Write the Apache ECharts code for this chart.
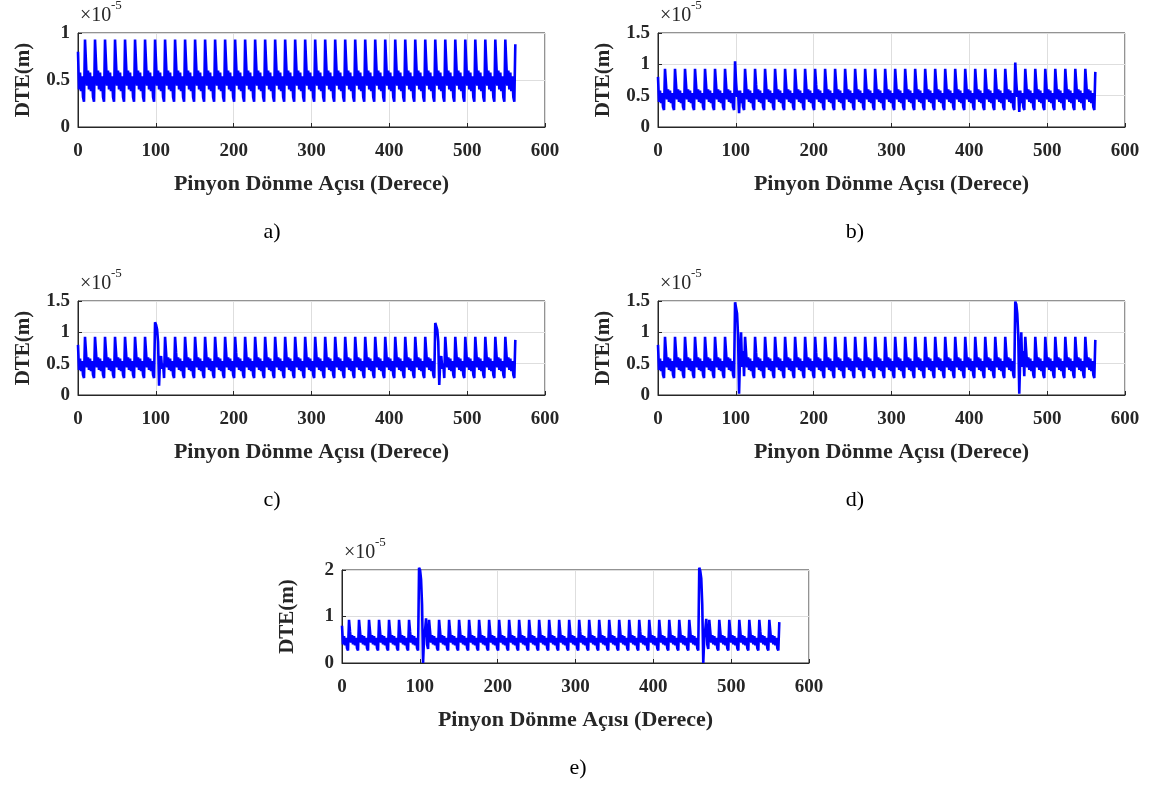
<!DOCTYPE html>
<html>
<head>
<meta charset="utf-8">
<script src="https://cdn.jsdelivr.net/npm/echarts@6/dist/echarts.min.js"></script>
<style>html,body{margin:0;padding:0;background:#fff}#c{width:1162px;height:787px}</style>
</head>
<body>
<div id="c"></div>
<script>
// Sample spacing (degrees of pinion rotation): 10 samples per tooth, 28-tooth pinion
const STEP = 360 / 28 / 10;

// Base DTE waveform (x1e-5 m), one row per tooth mesh
const baseDTE = [
0.80,0.40,0.58,0.38,0.54,0.32,0.27,0.93,0.68,0.44,
0.60,0.40,0.58,0.38,0.54,0.32,0.27,0.93,0.68,0.44,
0.60,0.40,0.58,0.38,0.54,0.32,0.27,0.93,0.68,0.44,
0.60,0.40,0.58,0.38,0.54,0.32,0.27,0.93,0.68,0.44,
0.60,0.40,0.58,0.38,0.54,0.32,0.27,0.93,0.68,0.44,
0.60,0.40,0.58,0.38,0.54,0.32,0.27,0.93,0.68,0.44,
0.60,0.40,0.58,0.38,0.54,0.32,0.27,0.93,0.68,0.44,
0.60,0.40,0.58,0.38,0.54,0.32,0.27,0.93,0.68,0.44,
0.60,0.40,0.58,0.38,0.54,0.32,0.27,0.93,0.68,0.44,
0.60,0.40,0.58,0.38,0.54,0.32,0.27,0.93,0.68,0.44,
0.60,0.40,0.58,0.38,0.54,0.32,0.27,0.93,0.68,0.44,
0.60,0.40,0.58,0.38,0.54,0.32,0.27,0.93,0.68,0.44,
0.60,0.40,0.58,0.38,0.54,0.32,0.27,0.93,0.68,0.44,
0.60,0.40,0.58,0.38,0.54,0.32,0.27,0.93,0.68,0.44,
0.60,0.40,0.58,0.38,0.54,0.32,0.27,0.93,0.68,0.44,
0.60,0.40,0.58,0.38,0.54,0.32,0.27,0.93,0.68,0.44,
0.60,0.40,0.58,0.38,0.54,0.32,0.27,0.93,0.68,0.44,
0.60,0.40,0.58,0.38,0.54,0.32,0.27,0.93,0.68,0.44,
0.60,0.40,0.58,0.38,0.54,0.32,0.27,0.93,0.68,0.44,
0.60,0.40,0.58,0.38,0.54,0.32,0.27,0.93,0.68,0.44,
0.60,0.40,0.58,0.38,0.54,0.32,0.27,0.93,0.68,0.44,
0.60,0.40,0.58,0.38,0.54,0.32,0.27,0.93,0.68,0.44,
0.60,0.40,0.58,0.38,0.54,0.32,0.27,0.93,0.68,0.44,
0.60,0.40,0.58,0.38,0.54,0.32,0.27,0.93,0.68,0.44,
0.60,0.40,0.58,0.38,0.54,0.32,0.27,0.93,0.68,0.44,
0.60,0.40,0.58,0.38,0.54,0.32,0.27,0.93,0.68,0.44,
0.60,0.40,0.58,0.38,0.54,0.32,0.27,0.93,0.68,0.44,
0.60,0.40,0.58,0.38,0.54,0.32,0.27,0.93,0.68,0.44,
0.60,0.40,0.58,0.38,0.54,0.32,0.27,0.93,0.68,0.44,
0.60,0.40,0.58,0.38,0.54,0.32,0.27,0.93,0.68,0.44,
0.60,0.40,0.58,0.38,0.54,0.32,0.27,0.93,0.68,0.44,
0.60,0.40,0.58,0.38,0.54,0.32,0.27,0.93,0.68,0.44,
0.60,0.40,0.58,0.38,0.54,0.32,0.27,0.93,0.68,0.44,
0.60,0.40,0.58,0.38,0.54,0.32,0.27,0.93,0.68,0.44,
0.60,0.40,0.58,0.38,0.54,0.32,0.27,0.93,0.68,0.44,
0.60,0.40,0.58,0.38,0.54,0.32,0.27,0.93,0.68,0.44,
0.60,0.40,0.58,0.38,0.54,0.32,0.27,0.93,0.68,0.44,
0.60,0.40,0.58,0.38,0.54,0.32,0.27,0.93,0.68,0.44,
0.60,0.40,0.58,0.38,0.54,0.32,0.27,0.93,0.68,0.44,
0.60,0.40,0.58,0.38,0.54,0.32,0.27,0.93,0.68,0.44,
0.60,0.40,0.58,0.38,0.54,0.32,0.27,0.93,0.68,0.44,
0.60,0.40,0.58,0.38,0.54,0.32,0.27,0.93,0.68,0.44,
0.60,0.40,0.58,0.38,0.54,0.32,0.27,0.93,0.68,0.44,
0.60,0.40,0.58,0.38,0.54,0.32,0.27,0.88
];

// Sample indices where the defective tooth enters mesh (once per revolution)
const spikeStarts = [77, 357];

// Defect responses (values replacing the base from each spike start)
const spikeA = [];
const spikeB1 = [1.05,0.72,0.48,0.58,0.22,0.58,0.38,0.54,0.32,0.27];
const spikeB2 = [1.03,0.72,0.48,0.58,0.24,0.58,0.38,0.54,0.32,0.27];
const spikeC1 = [1.16,1.12,1.05,0.85,0.15,0.55,0.62,0.42,0.50,0.27];
const spikeC2 = [1.15,1.13,1.04,0.85,0.16,0.55,0.62,0.42,0.50,0.27];
const spikeD1 = [1.48,1.46,1.30,0.95,0.02,0.60,1.00,0.45,0.70,0.30];
const spikeD2 = [1.49,1.45,1.30,0.95,0.02,0.60,1.00,0.45,0.70,0.30];
const spikeE1 = [2.05,2.00,1.80,1.25,0.00,0.55,0.70,0.96,0.40,0.30];
const spikeE2 = [2.05,1.98,1.82,1.25,0.00,0.55,0.72,0.95,0.40,0.30];

const panelLabels = ['a)', 'b)', 'c)', 'd)', 'e)'];
const yMaxes = [1, 1.5, 1.5, 1.5, 2];
const yIntervals = [0.5, 0.5, 0.5, 0.5, 1];
const xTitle = 'Pinyon Dönme Açısı (Derece)';
const yTitle = 'DTE(m)';

function build(spikes) {
  const d = baseDTE.slice();
  spikes.forEach((arr, k) => arr.forEach((v, j) => { d[spikeStarts[k] + j] = v; }));
  return d.map((v, i) => [i * STEP, v]);
}
const seriesData = [
  build([spikeA, spikeA]),
  build([spikeB1, spikeB2]),
  build([spikeC1, spikeC2]),
  build([spikeD1, spikeD2]),
  build([spikeE1, spikeE2])
];

// layout
const grids = [
  {left: 78, top: 33, width: 467, height: 94},
  {left: 658, top: 33, width: 467, height: 94},
  {left: 78, top: 301, width: 467, height: 94},
  {left: 658, top: 301, width: 467, height: 94},
  {left: 342, top: 570, width: 467, height: 93}
];
const captionPos = [[272, 232], [855, 232], [272, 500], [855, 500], [578, 768]];

const FONT = 'Liberation Serif';
const INK = '#262626';

const option = {
  backgroundColor: '#fff',
  animation: false,
  grid: grids.map(g => Object.assign({show: true, borderColor: INK, borderWidth: 1, backgroundColor: 'transparent'}, g)),
  xAxis: grids.map((g, i) => ({
    type: 'value', gridIndex: i, min: 0, max: 600, interval: 100,
    axisLine: {show: true, lineStyle: {color: INK, width: 1}},
    axisTick: {show: true, inside: true, length: 4, lineStyle: {color: INK}},
    splitLine: {show: true, lineStyle: {color: '#dedede', width: 1}},
    axisLabel: {fontFamily: FONT, fontWeight: 'bold', fontSize: 19, color: INK, margin: 15},
    name: xTitle, nameLocation: 'middle', nameGap: 46,
    nameTextStyle: {fontFamily: FONT, fontWeight: 'bold', fontSize: 22, color: INK}
  })),
  yAxis: grids.map((g, i) => ({
    type: 'value', gridIndex: i, min: 0, max: yMaxes[i], interval: yIntervals[i],
    axisLine: {show: true, lineStyle: {color: INK, width: 1}},
    axisTick: {show: true, inside: true, length: 4, lineStyle: {color: INK}},
    splitLine: {show: true, lineStyle: {color: '#dedede', width: 1}},
    axisLabel: {fontFamily: FONT, fontWeight: 'bold', fontSize: 19, color: INK, margin: 8},
    name: yTitle, nameLocation: 'middle', nameGap: 44, nameRotate: 90,
    nameTextStyle: {fontFamily: FONT, fontWeight: 'bold', fontSize: 21, color: INK}
  })),
  series: seriesData.map((d, i) => ({
    type: 'line', xAxisIndex: i, yAxisIndex: i, data: d,
    showSymbol: false, symbol: 'none', clip: i !== 4,
    lineStyle: {color: '#0000ff', width: 2.6, join: 'bevel'}
  })),
  graphic: [].concat(
    grids.map(g => ({type: 'text', left: g.left + 2, top: g.top - 27,
      style: {text: '×10', font: '20px "' + FONT + '"', fill: INK}})),
    grids.map(g => ({type: 'text', left: g.left + 33, top: g.top - 34,
      style: {text: '-5', font: '13px "' + FONT + '"', fill: INK}})),
    captionPos.map((p, i) => ({type: 'text', x: p[0], y: p[1],
      style: {text: panelLabels[i], font: '22px "' + FONT + '"', fill: '#000', align: 'center', verticalAlign: 'middle'}}))
  )
};

const chart = echarts.init(document.getElementById('c'), null, {renderer: 'canvas'});
chart.setOption(option);
</script>
</body>
</html>
